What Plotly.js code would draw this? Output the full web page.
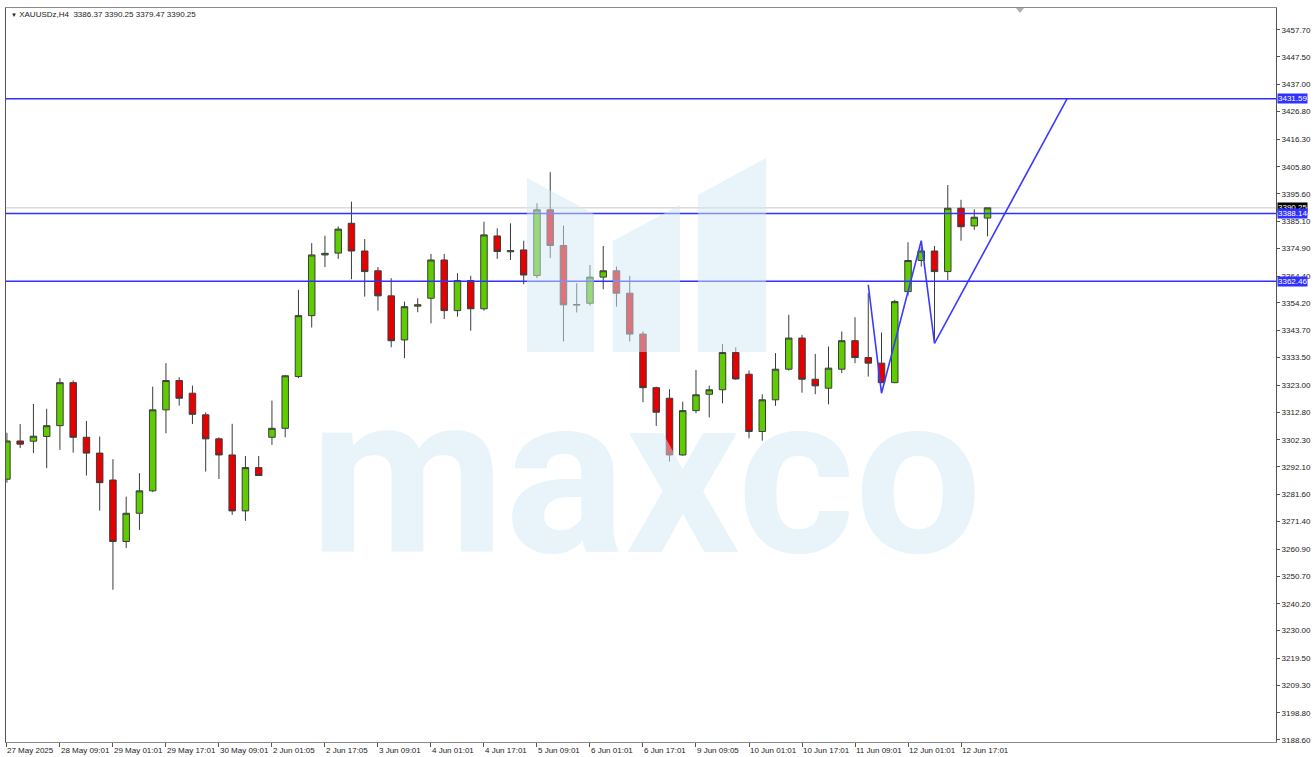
<!DOCTYPE html>
<html>
<head>
<meta charset="utf-8">
<script src="https://cdn.plot.ly/plotly-3.0.1.min.js"></script>
<style>html,body{margin:0;padding:0;background:#fff;}#chart{width:1316px;height:757px;}</style>
</head>
<body>
<div id="chart"></div>
<script>
// ---- data (XAUUSDz, H4) ----
const symbolTitle = 'XAUUSDz,H4  3386.37 3390.25 3379.47 3390.25';
const openP = [3287.4,3301.9,3301.8,3303.6,3307.7,3324.0,3303.3,3297.3,3287.1,3263.8,
  3274.5,3283.0,3313.7,3324.8,3320.0,3311.8,3302.7,3296.6,3275.4,3291.8,
  3303.3,3306.7,3326.3,3349.4,3372.4,3373.1,3384.4,3373.9,3366.4,3356.9,
  3340.2,3353.0,3356.0,3370.5,3351.3,3362.7,3352.0,3379.6,3373.6,3374.3,
  3364.6,3389.5,3376.0,3353.4,3354.1,3364.0,3366.4,3357.9,3342.4,3322.1,
  3318.1,3296.6,3313.4,3319.6,3321.3,3335.4,3327.2,3305.5,3317.5,3329.1,
  3340.9,3325.3,3321.9,3329.1,3339.9,3333.5,3331.4,3324.0,3358.5,3370.3,
  3373.9,3366.1,3390.1,3383.4,3386.37];
const highP = [3305.0,3308.3,3315.9,3314.1,3325.7,3324.8,3309.5,3303.6,3295.0,3280.8,
  3289.7,3322.5,3331.4,3326.1,3322.9,3312.7,3303.3,3308.4,3296.2,3296.2,
  3317.2,3326.9,3359.2,3376.9,3379.7,3383.2,3392.6,3378.4,3367.8,3363.6,
  3354.7,3356.0,3372.8,3372.8,3365.5,3364.5,3385.0,3382.5,3384.4,3377.8,
  3392.0,3403.8,3383.5,3361.7,3368.6,3375.8,3368.0,3364.5,3343.4,3322.5,
  3321.5,3316.8,3328.8,3322.9,3338.7,3337.4,3328.6,3319.6,3335.2,3349.7,
  3342.1,3334.9,3337.7,3343.4,3348.8,3357.9,3343.0,3355.4,3377.2,3375.6,
  3375.8,3398.9,3393.3,3389.7,3390.25];
const lowP = [3286.1,3299.2,3297.3,3291.6,3298.5,3297.5,3288.8,3275.5,3245.5,3261.3,
  3268.2,3282.5,3304.8,3315.3,3308.3,3290.3,3287.5,3273.9,3271.6,3288.6,
  3300.4,3303.3,3325.7,3344.9,3367.8,3370.9,3363.2,3356.6,3351.3,3337.4,
  3333.3,3350.7,3346.5,3348.1,3349.0,3343.7,3351.3,3370.9,3370.5,3361.3,
  3363.6,3371.2,3339.6,3350.6,3353.2,3359.4,3352.8,3339.6,3316.6,3307.6,
  3294.1,3296.3,3312.4,3310.8,3316.2,3325.1,3302.9,3302.0,3315.2,3328.6,
  3320.2,3319.6,3315.8,3327.6,3331.4,3326.3,3323.8,3323.8,3357.0,3368.0,
  3339.8,3362.9,3377.8,3381.9,3379.47];
const closeP = [3301.9,3300.7,3303.7,3307.7,3324.0,3303.3,3297.3,3286.1,3263.8,3274.5,
  3283.0,3313.7,3324.8,3318.1,3312.0,3302.7,3296.6,3275.4,3291.8,3288.8,
  3306.7,3326.6,3349.4,3372.4,3373.0,3382.2,3373.9,3366.1,3356.9,3339.9,
  3352.8,3353.5,3370.5,3351.3,3362.7,3352.0,3380.0,3373.7,3374.0,3364.8,
  3389.5,3376.0,3353.5,3353.6,3364.0,3366.4,3357.9,3342.4,3322.1,3312.8,
  3296.6,3313.4,3319.4,3321.3,3335.4,3325.4,3305.5,3317.5,3329.1,3340.9,
  3325.3,3322.8,3329.5,3339.9,3333.5,3331.4,3324.0,3354.7,3370.3,3373.9,
  3366.1,3390.1,3383.1,3386.7,3390.25];

// time axis labels (bar index -> label)
const timeTickIdx = [-0.07,4,8,12,16,20,24,28,32,36,40,44,48,52,56,60,64,68,72];
const timeTickText = ['27 May 2025','28 May 09:01','29 May 01:01','29 May 17:01','30 May 09:01',
  '2 Jun 01:05','2 Jun 17:05','3 Jun 09:01','4 Jun 01:01','4 Jun 17:01','5 Jun 09:01',
  '6 Jun 01:01','6 Jun 17:01','9 Jun 09:05','10 Jun 01:01','10 Jun 17:01','11 Jun 09:01',
  '12 Jun 01:01','12 Jun 17:01'];

// price axis labels
const priceTicks = [3457.70,3447.50,3437.00,3426.80,3416.30,3405.80,3395.60,3385.10,3374.90,
  3364.40,3354.20,3343.70,3333.50,3323.00,3312.80,3302.30,3292.10,3281.60,3271.40,3260.90,
  3250.70,3240.20,3230.00,3219.50,3209.30,3198.80,3188.60];

// horizontal levels and zigzag
const levels = [3431.59, 3388.14, 3362.46];
const bidPrice = 3390.25;
const zigzagIdx = [65, 66, 69, 70, 80];
const zigzagPrice = [3361.1, 3320.0, 3377.8, 3338.9, 3431.59];

// ---- chart ----
const barIdx = openP.map((_, i) => i);

const candles = {
  type: 'candlestick',
  x: barIdx, open: openP, high: highP, low: lowP, close: closeP,
  increasing: {fillcolor: '#5fcc00', line: {color: '#3c3c3c', width: 1}},
  decreasing: {fillcolor: '#e60000', line: {color: '#3c3c3c', width: 1}},
  whiskerwidth: 0,
  hoverinfo: 'skip', showlegend: false
};
const zigzag = {
  type: 'scatter', mode: 'lines', x: zigzagIdx, y: zigzagPrice,
  line: {color: '#3b3bff', width: 1.6}, hoverinfo: 'skip', showlegend: false
};

const wm = 'rgba(209,231,245,0.5)';
const shapes = [];
levels.forEach(v => shapes.push({type:'line', xref:'paper', x0:0, x1:1, yref:'y', y0:v, y1:v,
  line:{color:'#3030ff', width:1.6}, layer:'above'}));
shapes.unshift({type:'line', xref:'paper', x0:0, x1:1, yref:'y', y0:bidPrice, y1:bidPrice,
  line:{color:'#c8c8c8', width:1}, layer:'below'});
// watermark logo bars (pixel -> paper conversion)
const px = x => (x - 6) / 1270, py = y => (742 - y) / 734;
const logo = [
  [[527,178],[594,214],[594,352],[527,352]],
  [[613,241],[680,205],[680,352],[613,352]],
  [[698,195],[766,158],[766,352],[698,352]]
];
logo.forEach(poly => {
  const d = poly.map((p, i) => (i ? 'L' : 'M') + px(p[0]).toFixed(5) + ',' + py(p[1]).toFixed(5)).join(' ') + ' Z';
  shapes.push({type:'path', xref:'paper', yref:'paper', path:d, fillcolor:wm, line:{width:0}, layer:'above'});
});
// small shift marker on top border
shapes.push({type:'path', xref:'paper', yref:'paper',
  path:'M' + px(1016) + ',' + py(8) + ' L' + px(1024) + ',' + py(8) + ' L' + px(1020) + ',' + py(13) + ' Z',
  fillcolor:'#b0b0b0', line:{width:0}, layer:'above'});

const annotations = [
  {xref:'paper', yref:'paper', x:px(9), y:py(15), xanchor:'left', yanchor:'middle', showarrow:false,
   text:'<span style="font-size:6px">▼</span> ' + symbolTitle,
   font:{family:'Liberation Sans, Arial, sans-serif', size:8, color:'#222'}},
  {xref:'paper', yref:'paper', x:px(646), y:py(475), xanchor:'center', yanchor:'middle', showarrow:false,
   text:'maxco', font:{family:'Roboto, sans-serif', size:225, color:wm, weight:700}}
];
// right-side price labels
const priceLabel = (v, bg) => ({xref:'paper', yref:'y', x:1, y:v, xanchor:'left', yanchor:'middle',
  xshift:1, showarrow:false, text:v.toFixed(2), bgcolor:bg, borderpad:0,
  font:{family:'Liberation Sans, Arial, sans-serif', size:8, color:'#fff'}});
annotations.push(priceLabel(bidPrice, '#000'));
levels.forEach(v => annotations.push(priceLabel(v, '#3030ff')));

const layout = {
  width: 1316, height: 757,
  margin: {l: 6, r: 40, t: 8, b: 15},
  paper_bgcolor: '#fff', plot_bgcolor: '#fff',
  showlegend: false,
  xaxis: {
    type: 'linear', range: [-0.07, 95.77], rangeslider: {visible: false},
    showgrid: false, zeroline: false,
    showline: true, linecolor: '#8a8a8a', linewidth: 1, mirror: true,
    tickmode: 'array', tickvals: timeTickIdx, ticktext: timeTickText,
    ticks: 'outside', ticklen: 4, tickcolor: '#555',
    tickangle: 0, automargin: false,
    ticklabelposition: 'outside right',
    tickfont: {family: 'Liberation Sans, Arial, sans-serif', size: 8, color: '#222'}
  },
  yaxis: {
    side: 'right', range: [3187.8, 3466.0],
    showgrid: false, zeroline: false,
    showline: true, linecolor: '#555', linewidth: 1, mirror: true,
    tickmode: 'array', tickvals: priceTicks, ticktext: priceTicks.map(v => v.toFixed(2)),
    ticks: 'outside', ticklen: 3, tickcolor: '#555',
    tickfont: {family: 'Liberation Sans, Arial, sans-serif', size: 8, color: '#222'}
  },
  shapes: shapes,
  annotations: annotations
};

Plotly.newPlot('chart', [candles, zigzag], layout, {staticPlot: true, displayModeBar: false});
</script>
</body>
</html>
